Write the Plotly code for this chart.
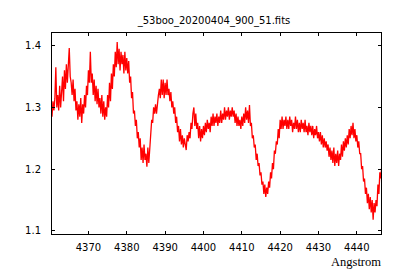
import numpy as np
import plotly.graph_objects as go

title_text = "_53boo_20200404_900_51.fits"
x_label = "Angstrom"

wave_start = 4360.5
wave_step = 0.25
flux = [
    1.285, 1.31, 1.295, 1.315, 1.365, 1.30, 1.32, 1.295, 1.335, 1.30,
    1.325, 1.35, 1.31, 1.36, 1.33, 1.37, 1.34, 1.375, 1.396, 1.35,
    1.34, 1.32, 1.345, 1.31, 1.33, 1.295, 1.31, 1.28, 1.305, 1.285,
    1.315, 1.275, 1.305, 1.29, 1.32, 1.30, 1.335, 1.32, 1.36, 1.34,
    1.39, 1.34, 1.355, 1.32, 1.345, 1.31, 1.335, 1.305, 1.33, 1.30,
    1.315, 1.29, 1.32, 1.285, 1.31, 1.28, 1.30, 1.285, 1.32, 1.30,
    1.34, 1.31, 1.355, 1.33, 1.37, 1.35, 1.39, 1.365, 1.406, 1.37,
    1.395, 1.36, 1.39, 1.37, 1.385, 1.355, 1.39, 1.36, 1.38, 1.355,
    1.375, 1.34, 1.35, 1.315, 1.325, 1.29, 1.295, 1.27, 1.28, 1.25,
    1.26, 1.235, 1.25, 1.215, 1.235, 1.21, 1.24, 1.215, 1.225, 1.204,
    1.235, 1.21, 1.24, 1.265, 1.28, 1.275, 1.30, 1.29, 1.305, 1.29,
    1.31, 1.32, 1.33, 1.315, 1.345, 1.32, 1.345, 1.315, 1.34, 1.32,
    1.345, 1.32, 1.33, 1.31, 1.325, 1.30, 1.31, 1.29, 1.30, 1.275,
    1.285, 1.26, 1.27, 1.245, 1.265, 1.24, 1.255, 1.235, 1.25, 1.235,
    1.231, 1.255, 1.245, 1.26, 1.25, 1.275, 1.265, 1.29, 1.30, 1.27,
    1.29, 1.265, 1.275, 1.25, 1.27, 1.245, 1.265, 1.25, 1.27, 1.255,
    1.275, 1.26, 1.28, 1.265, 1.275, 1.26, 1.285, 1.27, 1.29, 1.27,
    1.285, 1.275, 1.29, 1.27, 1.285, 1.275, 1.295, 1.275, 1.29, 1.28,
    1.30, 1.28, 1.295, 1.285, 1.30, 1.28, 1.295, 1.285, 1.30, 1.285,
    1.295, 1.275, 1.29, 1.27, 1.285, 1.27, 1.28, 1.265, 1.285, 1.27,
    1.29, 1.275, 1.30, 1.28, 1.295, 1.275, 1.304, 1.27, 1.275, 1.25,
    1.255, 1.235, 1.24, 1.215, 1.225, 1.205, 1.21, 1.19, 1.195, 1.175,
    1.18, 1.16, 1.175, 1.155, 1.17, 1.16, 1.18, 1.17, 1.195, 1.185,
    1.21, 1.20, 1.23, 1.225, 1.245, 1.24, 1.265, 1.25, 1.28, 1.265,
    1.285, 1.265, 1.28, 1.27, 1.285, 1.265, 1.28, 1.265, 1.285, 1.27,
    1.28, 1.26, 1.275, 1.265, 1.285, 1.265, 1.28, 1.26, 1.275, 1.26,
    1.28, 1.265, 1.275, 1.26, 1.28, 1.26, 1.27, 1.255, 1.275, 1.26,
    1.27, 1.255, 1.27, 1.25, 1.265, 1.255, 1.27, 1.25, 1.26, 1.245,
    1.26, 1.24, 1.255, 1.235, 1.25, 1.235, 1.245, 1.23, 1.24, 1.22,
    1.235, 1.215, 1.23, 1.21, 1.235, 1.205, 1.225, 1.21, 1.23, 1.205,
    1.225, 1.215, 1.24, 1.22, 1.245, 1.23, 1.25, 1.235, 1.255, 1.24,
    1.265, 1.25, 1.27, 1.255, 1.275, 1.25, 1.265, 1.245, 1.255, 1.235,
    1.245, 1.225, 1.225, 1.20, 1.205, 1.18, 1.185, 1.16, 1.17, 1.145,
    1.16, 1.135, 1.155, 1.13, 1.15, 1.118, 1.145, 1.13, 1.15, 1.14,
    1.175, 1.16, 1.195, 1.185, 1.205,
]
wave = wave_start + wave_step * np.arange(len(flux))

x_ticks = [4370, 4380, 4390, 4400, 4410, 4420, 4430, 4440]
y_ticks = [1.1, 1.2, 1.3, 1.4]

fig = go.Figure()
fig.add_trace(go.Scatter(x=wave, y=flux, mode="lines",
                         line=dict(color="#ff0000", width=1.3),
                         showlegend=False, hoverinfo="skip"))

tick_font = dict(family="DejaVu Sans", size=10, color="black")
fig.update_layout(
    width=400, height=280,
    margin=dict(l=52, r=19, t=33, b=46),
    paper_bgcolor="white", plot_bgcolor="white",
    title=dict(text=title_text, x=0.535, xanchor="center", y=1 - 20 / 280,
               yanchor="middle", yref="container",
               font=dict(family="DejaVu Sans", size=10, color="black")),
    xaxis=dict(range=[4360.5, 4446.3], tickvals=x_ticks,
               ticktext=[str(t) for t in x_ticks],
               ticks="inside", ticklen=3, tickcolor="black",
               showline=True, linecolor="black", linewidth=1, mirror="allticks",
               showgrid=False, zeroline=False, tickfont=tick_font,
               ticklabelstandoff=4),
    yaxis=dict(range=[1.095, 1.4205], tickvals=y_ticks,
               ticktext=["1.1", "1.2", "1.3", "1.4"],
               ticks="inside", ticklen=3, tickcolor="black",
               showline=True, linecolor="black", linewidth=1, mirror="allticks",
               showgrid=False, zeroline=False, tickfont=tick_font,
               ticklabelstandoff=8),
    annotations=[dict(text=x_label, xref="paper", yref="paper", x=1.005, y=-0.139,
                      xanchor="right", yanchor="middle", showarrow=False,
                      font=dict(family="Liberation Serif", size=12.5, color="black"))],
)

fig.write_html("out.html")
